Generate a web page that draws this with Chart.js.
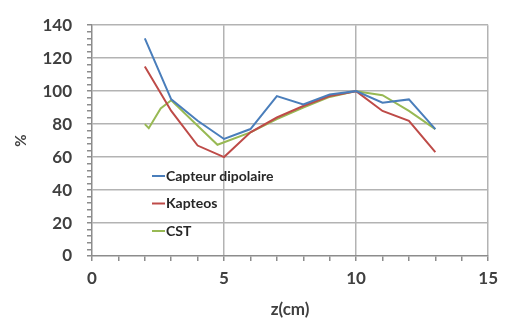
<!DOCTYPE html>
<html>
<head>
<meta charset="utf-8">
<script src="https://cdn.jsdelivr.net/npm/chart.js@4"></script>
<style>
  html, body { margin: 0; padding: 0; background: #ffffff; }
  #chart { display: block; }
</style>
</head>
<body>
<canvas id="chart" width="505" height="324"></canvas>
<script>
// valeurs
const zMesure = [2, 3, 4, 5, 6, 7, 8, 9, 10, 11, 12, 13];
const capteurDipolaire = [132, 95, 82, 71, 77, 97, 92, 98, 100, 93, 95, 77];
const kapteos = [115, 88, 67, 60, 75, 84, 91, 97, 100, 88, 82, 63];
const zCst = [2, 2.15, 2.6, 3, 4, 4.75, 6, 7, 8, 9, 10, 11, 12, 13];
const cst = [80, 77.5, 89.5, 94.5, 79, 67.5, 75, 83, 90, 96.5, 100, 97.5, 88, 77];
const yLabels = [0, 20, 40, 60, 80, 100, 120, 140];
const xLabels = [0, 5, 10, 15];

const seriesNames = ["Capteur dipolaire", "Kapteos", "CST"];
const seriesColors = ["#4a7ebb", "#be4b48", "#98b954"];

function toPoints(xs, ys) {
  return xs.map(function (x, i) { return { x: x, y: ys[i] }; });
}

const gridColor = "#b3b3b3";
const axisColor = "#8c8c8c";
const fontFamily = "Lato, 'Open Sans', sans-serif";

// legende dessinee dans la zone du graphique
const legendInside = {
  id: "legendInside",
  afterDraw: function (chart) {
    const ctx = chart.ctx;
    ctx.save();
    ctx.font = "bold 14px " + fontFamily;
    ctx.textBaseline = "middle";
    seriesNames.forEach(function (name, i) {
      const y = 176 + i * 27.5;
      ctx.strokeStyle = seriesColors[i];
      ctx.lineWidth = 2;
      ctx.beginPath();
      ctx.moveTo(152, y);
      ctx.lineTo(165, y);
      ctx.stroke();
      ctx.fillStyle = "#262626";
      ctx.fillText(name, 166, y);
    });
    ctx.restore();
  }
};

const ctx = document.getElementById("chart").getContext("2d");
new Chart(ctx, {
  type: "scatter",
  data: {
    datasets: [
      { label: seriesNames[0], data: toPoints(zMesure, capteurDipolaire) },
      { label: seriesNames[1], data: toPoints(zMesure, kapteos) },
      { label: seriesNames[2], data: toPoints(zCst, cst) }
    ].map(function (ds, i) {
      ds.showLine = true;
      ds.borderColor = seriesColors[i];
      ds.backgroundColor = seriesColors[i];
      ds.borderWidth = 2;
      ds.pointRadius = 0;
      ds.tension = 0;
      return ds;
    })
  },
  options: {
    responsive: false,
    animation: false,
    layout: { padding: { top: 12, right: 13, left: 0, bottom: 2 } },
    plugins: {
      legend: { display: false },
      tooltip: { enabled: false }
    },
    scales: {
      x: {
        type: "linear",
        min: 0,
        max: 15,
        afterFit: function (scale) { scale.height = 66; },
        border: { color: axisColor, width: 1.5 },
        grid: {
          color: function (c) {
            return xLabels.indexOf(c.tick.value) >= 0 && c.tick.value !== 0 ? gridColor : "rgba(0,0,0,0)";
          },
          lineWidth: 1.5,
          tickColor: axisColor,
          tickLength: 5
        },
        ticks: {
          stepSize: 1,
          autoSkip: false,
          maxRotation: 0,
          padding: 7,
          color: "#404040",
          font: { family: fontFamily, size: 17, weight: "bold" },
          callback: function (v) { return xLabels.indexOf(v) >= 0 ? String(v) : ""; }
        },
        title: {
          display: true,
          text: "z(cm)",
          color: "#404040",
          padding: { top: 2, bottom: 2 },
          font: { family: fontFamily, size: 17, weight: "bold" }
        }
      },
      y: {
        min: 0,
        max: 140,
        afterFit: function (scale) { scale.width = 92; },
        border: { color: axisColor, width: 1.5 },
        grid: {
          color: function (c) {
            return yLabels.indexOf(c.tick.value) >= 0 && c.tick.value !== 0 ? gridColor : "rgba(0,0,0,0)";
          },
          lineWidth: 1.5,
          tickColor: axisColor,
          tickLength: 5
        },
        ticks: {
          stepSize: 4,
          autoSkip: false,
          padding: 15,
          color: "#404040",
          font: { family: fontFamily, size: 17, weight: "bold" },
          callback: function (v) { return yLabels.indexOf(v) >= 0 ? String(v) : ""; }
        },
        title: {
          display: true,
          text: "%",
          color: "#404040",
          padding: { top: 12, bottom: 0 },
          font: { family: fontFamily, size: 15, weight: "bold" }
        }
      }
    }
  },
  plugins: [legendInside]
});
</script>
</body>
</html>
